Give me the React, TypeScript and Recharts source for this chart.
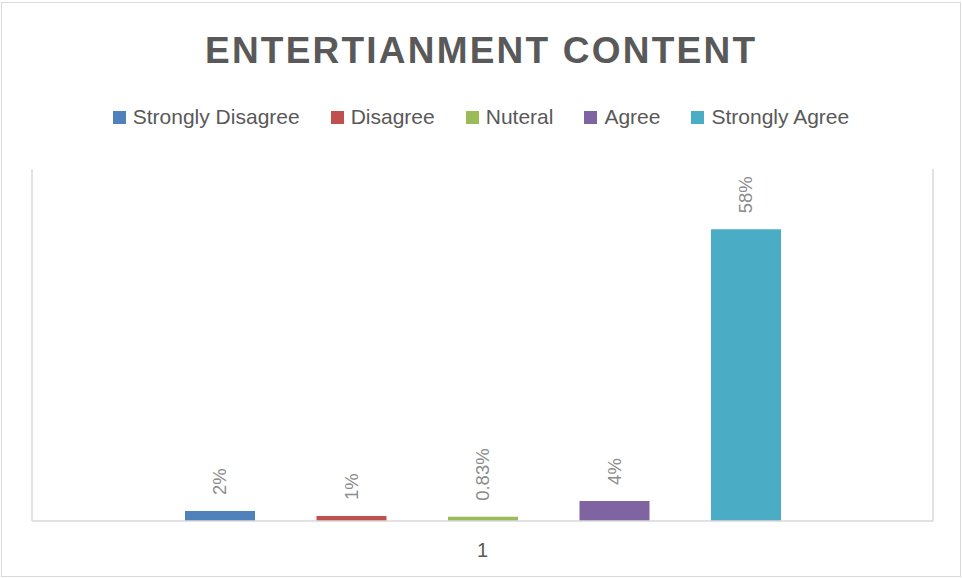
import React from 'react';
import { BarChart, Bar, XAxis, YAxis, LabelList, Legend, CartesianGrid } from 'recharts';

const categories = ['1'];
const seriesNames = ['Strongly Disagree', 'Disagree', 'Nuteral', 'Agree', 'Strongly Agree'];
const seriesKeys = ['sd', 'd', 'n', 'a', 'sa'];
const stronglyDisagree = [2];
const disagree = [1];
const nuteral = [0.83];
const agree = [4];
const stronglyAgree = [58];
const colors = ['#4F81BD', '#C0504D', '#9BBB59', '#8064A2', '#4BACC6'];
const titleText = 'ENTERTIANMENT CONTENT';

const seriesValues = [stronglyDisagree, disagree, nuteral, agree, stronglyAgree];
const data = categories.map((c, i) => {
  const row: Record<string, any> = { name: c };
  seriesKeys.forEach((k, s) => {
    row[k] = seriesValues[s][i];
  });
  return row;
});

const FONT = "'Liberation Sans', Arial, sans-serif";

const fmt = (v: number) => `${v}%`;

const RotLabel = (props: any) => {
  const { x, y, width, value } = props;
  const cx = Number(x) + Number(width) / 2;
  const ty = Number(y) - 16;
  return (
    <text
      x={cx}
      y={ty}
      transform={`rotate(-90 ${cx} ${ty})`}
      textAnchor="start"
      dominantBaseline="central"
      fill="#8C8C8C"
      fontSize={18.5}
      fontFamily={FONT}
    >
      {fmt(value)}
    </text>
  );
};

const LegendContent = (props: any) => {
  const payload = [...(props.payload || [])].sort(
    (a: any, b: any) => seriesNames.indexOf(a.value) - seriesNames.indexOf(b.value)
  );
  return (
    <div
      style={{
        display: 'flex',
        justifyContent: 'center',
        alignItems: 'center',
        fontFamily: FONT,
        fontSize: 21,
        color: '#595959',
        height: 26,
      }}
    >
      {payload.map((p: any, i: number) => (
        <div key={i} style={{ display: 'flex', alignItems: 'center', marginLeft: i === 0 ? 0 : 31 }}>
          <span style={{ width: 13, height: 13, background: p.color, display: 'inline-block', marginRight: 7 }} />
          <span>{p.value}</span>
        </div>
      ))}
    </div>
  );
};

export default function App() {
  return (
    <div style={{ position: 'absolute', left: 0, top: 0, width: 962, height: 578, background: '#fff' }}>
      <div
        style={{
          position: 'absolute',
          left: 1,
          top: 2,
          width: 960,
          height: 575,
          border: '1px solid #D9D9D9',
          boxSizing: 'border-box',
        }}
      />
      <svg style={{ position: 'absolute', left: 0, top: 0 }} width={962} height={90}>
        <text
          x={480}
          y={63}
          textAnchor="middle"
          fontFamily="'Liberation Sans Narrow', 'Liberation Sans', Arial, sans-serif"
          fontWeight="bold"
          fontSize={37}
          fill="#595959"
          textLength={550}
          lengthAdjust="spacing"
        >
          {titleText}
        </text>
      </svg>
      <div style={{ position: 'absolute', left: 0, top: 0 }}>
        <BarChart
          width={962}
          height={578}
          data={data}
          margin={{ top: 169, right: 29, bottom: 17, left: 32 }}
          barSize={70}
          barGap={61.5}
        >
          <CartesianGrid
            horizontal={false}
            vertical={true}
            stroke="#D9D9D9"
            strokeWidth={1.5}
            verticalCoordinatesGenerator={({ offset }: any) => [offset.left, offset.left + offset.width]}
          />
          <XAxis
            dataKey="name"
            axisLine={{ stroke: '#D9D9D9', strokeWidth: 1.5 }}
            tickLine={false}
            tick={{ fill: '#595959', fontSize: 20, fontFamily: FONT }}
            tickMargin={16}
            height={40}
          />
          <YAxis yAxisId="left" domain={[0, 70]} hide />
          <Legend
            layout="horizontal"
            verticalAlign="middle"
            align="center"
            itemSorter={null as any}
            content={<LegendContent />}
            wrapperStyle={{ top: 104, left: 0, width: 962 }}
          />
          {seriesKeys.map((k, s) => (
            <Bar
              key={k}
              yAxisId="left"
              dataKey={k}
              name={seriesNames[s]}
              fill={colors[s]}
              isAnimationActive={false}
            >
              <LabelList dataKey={k} content={<RotLabel />} />
            </Bar>
          ))}
        </BarChart>
      </div>
    </div>
  );
}
